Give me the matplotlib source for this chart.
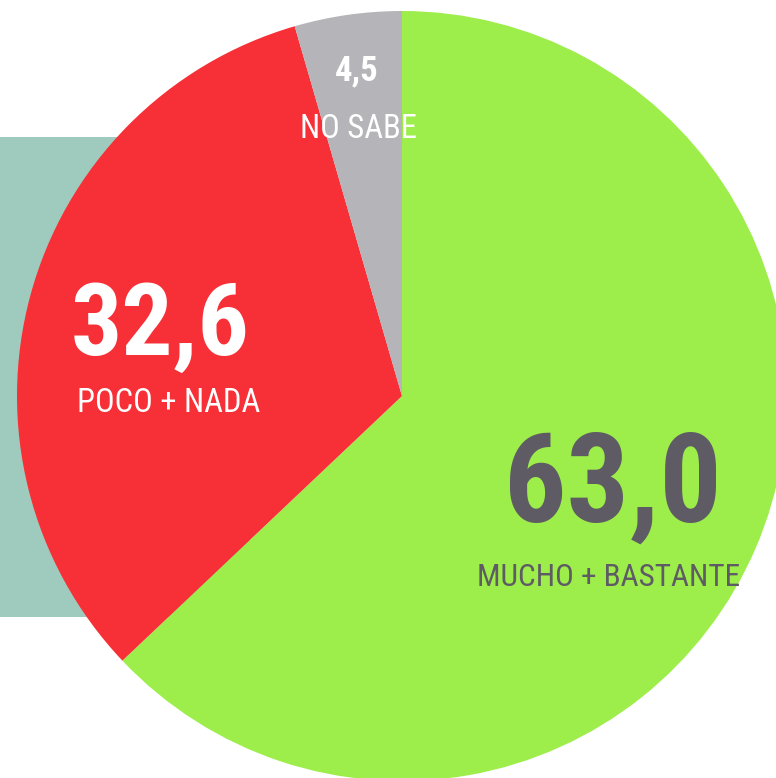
import matplotlib
matplotlib.use("Agg")
import matplotlib.pyplot as plt
from matplotlib.patches import Rectangle

categories = ["MUCHO + BASTANTE", "POCO + NADA", "NO SABE"]
values = [63.0, 32.6, 4.5]
value_labels = ["63,0", "32,6", "4,5"]
colors = ["#9ded4b", "#f72f36", "#b5b4b9"]

W, H = 776, 778
fig = plt.figure(figsize=(W / 100, H / 100), dpi=100)
ax = fig.add_axes([0, 0, 1, 1])

# teal background box
ax.add_patch(Rectangle((0, H - 617), 250, 480, facecolor="#9ecbbd", edgecolor="none", zorder=0))

cx, cy, r = 402, H - 396, 385
ax.pie(values, colors=colors, startangle=90, counterclock=False,
       center=(cx, cy), radius=r, frame=True,
       wedgeprops=dict(linewidth=0, zorder=1))
ax.set_xlim(0, W)
ax.set_ylim(0, H)
ax.set_aspect("equal")
ax.axis("off")

fam = ["Roboto Condensed", "DejaVu Sans"]
dark = "#5e5b64"

ax.text(613, H - 488, value_labels[0], fontsize=89, fontweight="bold", color=dark,
        ha="center", va="center", family=fam, zorder=3)
ax.text(609, H - 578, categories[0], fontsize=22.5, color=dark,
        ha="center", va="center", family=fam, zorder=3)

ax.text(160, H - 327, value_labels[1], fontsize=73, fontweight="bold", color="white",
        ha="center", va="center", family=fam, zorder=3)
ax.text(169, H - 403, categories[1], fontsize=23.5, color="white",
        ha="center", va="center", family=fam, zorder=3)

ax.text(357, H - 71, value_labels[2], fontsize=25, fontweight="bold", color="white",
        ha="center", va="center", family=fam, zorder=3)
ax.text(358, H - 129, categories[2], fontsize=23.5, color="white",
        ha="center", va="center", family=fam, zorder=3)

fig.savefig("out.png", dpi=100)
